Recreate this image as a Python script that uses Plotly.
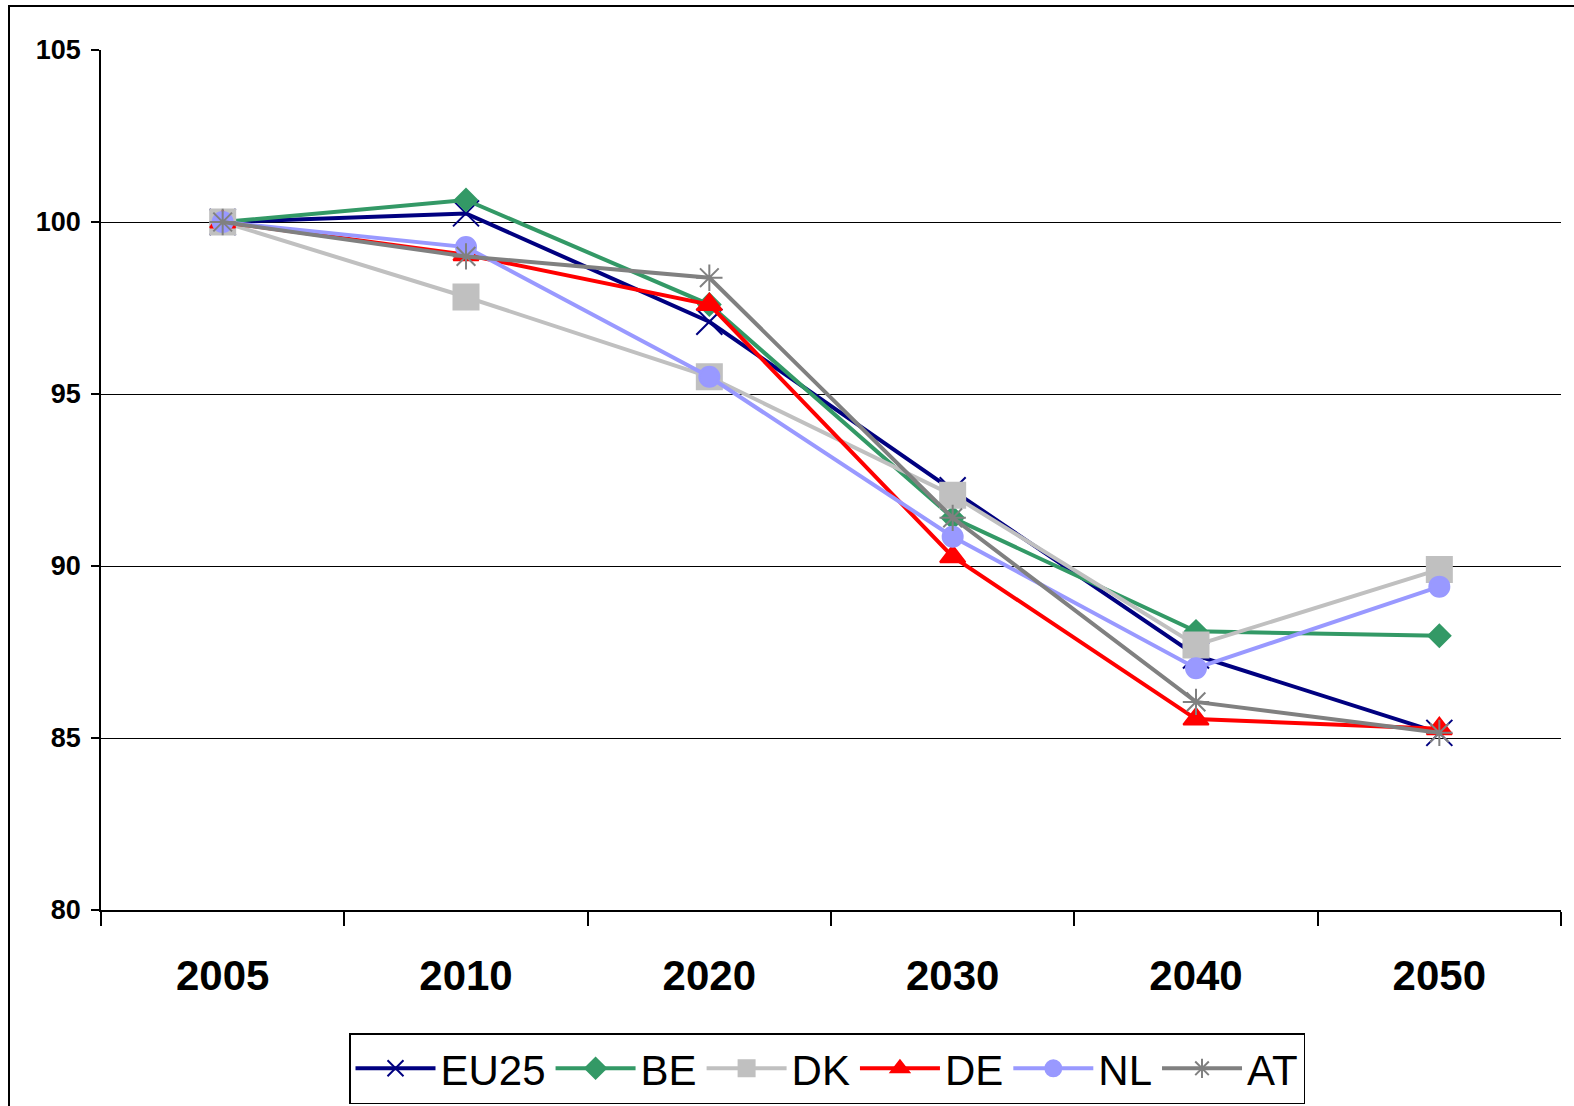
import plotly.graph_objects as go

years = ["2005", "2010", "2020", "2030", "2040", "2050"]
eu25 = [100.0, 100.25, 97.1, 92.2, 87.4, 85.15]
be = [100.0, 100.64, 97.6, 91.4, 88.1, 87.97]
dk = [100.0, 97.82, 95.5, 92.06, 87.7, 89.9]
de = [100.0, 99.05, 97.6, 90.27, 85.55, 85.27]
nl = [100.0, 99.27, 95.5, 90.85, 87.03, 89.4]
at = [100.0, 99.0, 98.38, 91.4, 86.05, 85.15]

series = [
    ("EU25", eu25, "#000080", "x-thin-open", 26),
    ("BE", be, "#339966", "diamond", 17),
    ("DK", dk, "#C0C0C0", "square", 25),
    ("DE", de, "#FF0000", "triangle-up", 22),
    ("NL", nl, "#9999FF", "circle", 20),
    ("AT", at, "#808080", "asterisk-open", 22),
]

fig = go.Figure()
for name, vals, col, sym, sz in series:
    fig.add_trace(go.Scatter(
        x=years, y=vals, name=name, mode="lines+markers",
        line=dict(color=col, width=4),
        marker=dict(symbol=sym, size=sz, color=col,
                    line=dict(color=col, width=2)),
    ))

W, H = 1574, 1106
L, R, T, B = 101, 13, 50, 196
pw, ph = W - L - R, H - T - B

fig.update_layout(
    width=W, height=H,
    margin=dict(l=L, r=R, t=T, b=B, pad=0, autoexpand=False),
    paper_bgcolor="white", plot_bgcolor="white",
    font=dict(family="Liberation Sans, Arial, sans-serif", color="black"),
    showlegend=True,
    legend=dict(
        orientation="h", xref="container", x=827 / W, xanchor="center",
        yref="container", y=1 - 1033 / H, yanchor="top",
        font=dict(size=42, color="black"),
        bordercolor="black", borderwidth=1.5, bgcolor="white",
        itemwidth=80, tracegroupgap=0,
    ),
    shapes=[dict(
        type="rect", xref="paper", yref="paper",
        x0=(9 - L) / pw, x1=(W + 20 - L) / pw,
        y0=(H - B - (H + 20)) / ph, y1=(H - B - 6) / ph,
        line=dict(color="black", width=2), fillcolor="rgba(0,0,0,0)",
        layer="below",
    )],
)

fig.update_xaxes(
    type="category", range=[-0.5, 5.5], automargin=False,
    showline=True, linecolor="black", linewidth=1.5,
    ticks="outside", tickson="boundaries", ticklen=14, tickcolor="black", tickwidth=1.5,
    tickfont=dict(size=42, family="Liberation Sans, Arial, sans-serif", color="black", weight="bold"),
    showgrid=False, zeroline=False, ticklabelstandoff=28,
)
fig.update_yaxes(
    range=[80, 105], dtick=5, tick0=80, automargin=False,
    showline=True, linecolor="black", linewidth=1.5,
    ticks="outside", ticklen=8, tickcolor="black", tickwidth=1.5,
    tickfont=dict(size=27, family="Liberation Sans, Arial, sans-serif", color="black", weight="bold"),
    showgrid=True, gridcolor="black", gridwidth=1.2, zeroline=False,
    ticklabelstandoff=5,
)

fig.write_html("out.html", config={"displayModeBar": False},
               post_script="document.body.style.margin='0';document.body.style.overflow='hidden';")
